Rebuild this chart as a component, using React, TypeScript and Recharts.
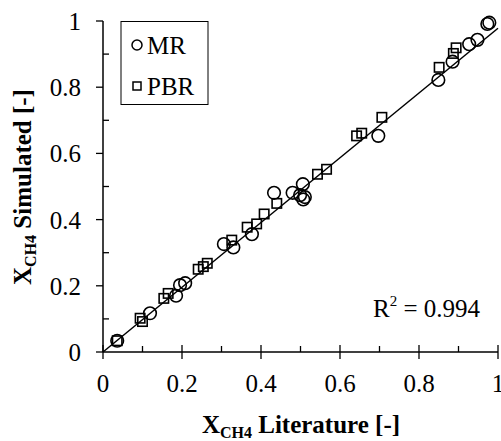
import { ScatterChart, Scatter, XAxis, YAxis, ReferenceLine } from 'recharts';

// MR (circles): literature vs simulated conversion
const mrLiterature = [0.036, 0.119, 0.185, 0.195, 0.208, 0.306, 0.33, 0.377, 0.433, 0.48, 0.506, 0.499, 0.507, 0.511, 0.697, 0.849, 0.885, 0.927, 0.948, 0.973, 0.978];
const mrSimulated = [0.034, 0.117, 0.17, 0.202, 0.208, 0.326, 0.316, 0.356, 0.481, 0.481, 0.507, 0.474, 0.461, 0.468, 0.653, 0.822, 0.877, 0.93, 0.943, 0.991, 0.995];

// PBR (squares)
const pbrLiterature = [0.036, 0.094, 0.1, 0.154, 0.165, 0.241, 0.254, 0.264, 0.326, 0.365, 0.389, 0.408, 0.44, 0.543, 0.566, 0.642, 0.655, 0.706, 0.851, 0.887, 0.894];
const pbrSimulated = [0.034, 0.102, 0.092, 0.162, 0.177, 0.25, 0.258, 0.268, 0.338, 0.377, 0.387, 0.417, 0.449, 0.537, 0.552, 0.653, 0.661, 0.709, 0.86, 0.902, 0.919];

const axisTicks = [0, 0.1, 0.2, 0.3, 0.4, 0.5, 0.6, 0.7, 0.8, 0.9, 1];
const majorTicks = [0, 0.2, 0.4, 0.6, 0.8, 1];
const seriesNames = ['MR', 'PBR'];
const fitSlope = 0.978;
const r2Value = '0.994';

const mrData = mrLiterature.map((x, i) => ({ x, y: mrSimulated[i] }));
const pbrData = pbrLiterature.map((x, i) => ({ x, y: pbrSimulated[i] }));

const FONT = "'Liberation Serif', 'Times New Roman', serif";
const serif = { fontFamily: FONT };

const CircleMark = (p: any) => (
  <circle cx={p.cx} cy={p.cy} r={6.3} fill="none" stroke="#000" strokeWidth={1.6} />
);
const SquareMark = (p: any) => (
  <rect x={p.cx - 4.7} y={p.cy - 4.7} width={9.4} height={9.4} fill="none" stroke="#000" strokeWidth={1.6} />
);

const YTick = ({ x, y, payload }: any) => {
  const major = majorTicks.includes(payload.value);
  return (
    <g>
      {major ? (
        <line x1={x - 7} x2={x} y1={y} y2={y} stroke="#000" strokeWidth={1.3} />
      ) : (
        <line x1={x} x2={x + 6} y1={y} y2={y} stroke="#000" strokeWidth={1.3} />
      )}
      {major && (
        <text x={x - 22} y={y + 9} textAnchor="end" style={serif} fontSize={25} fill="#000">
          {String(payload.value)}
        </text>
      )}
    </g>
  );
};

const XTick = ({ x, y, payload }: any) => {
  const major = majorTicks.includes(payload.value);
  return (
    <g>
      {major ? (
        <line x1={x} x2={x} y1={y - 7} y2={y + 7} stroke="#000" strokeWidth={1.3} />
      ) : (
        <line x1={x} x2={x} y1={y - 6} y2={y} stroke="#000" strokeWidth={1.3} />
      )}
      {major && (
        <text x={x} y={y + 40} textAnchor="middle" style={serif} fontSize={25} fill="#000">
          {String(payload.value)}
        </text>
      )}
    </g>
  );
};

export default function App() {
  return (
    <div style={{ position: 'absolute', left: 0, top: 0, width: 501, height: 441, background: '#fff' }}>
      <ScatterChart width={501} height={441} margin={{ top: 21, right: 3, left: 0, bottom: 0 }}>
        <XAxis
          type="number"
          dataKey="x"
          domain={[0, 1]}
          ticks={axisTicks}
          interval={0}
          tickSize={0}
          tickMargin={0}
          tick={<XTick />}
          tickLine={false}
          axisLine={{ stroke: '#000', strokeWidth: 1.5 }}
          height={89}
        />
        <YAxis
          type="number"
          dataKey="y"
          domain={[0, 1]}
          ticks={axisTicks}
          interval={0}
          tickSize={0}
          tickMargin={0}
          tick={<YTick />}
          tickLine={false}
          axisLine={{ stroke: '#000', strokeWidth: 1.5 }}
          width={103}
        />
        <ReferenceLine
          segment={[{ x: 0, y: 0 }, { x: 1, y: fitSlope }]}
          stroke="#000"
          strokeWidth={1.5}
          ifOverflow="visible"
        />
        <Scatter name={seriesNames[0]} data={mrData} shape={CircleMark} isAnimationActive={false} />
        <Scatter name={seriesNames[1]} data={pbrData} shape={SquareMark} isAnimationActive={false} />
      </ScatterChart>
      <svg width={501} height={441} style={{ position: 'absolute', left: 0, top: 0, pointerEvents: 'none' }}>
        {/* legend */}
        <rect x={121} y={21.5} width={87} height={83} fill="#fff" stroke="#000" strokeWidth={1} />
        <circle cx={137} cy={45} r={5} fill="none" stroke="#000" strokeWidth={1.5} />
        <text x={147} y={54} style={serif} fontSize={25} fill="#000">{seriesNames[0]}</text>
        <rect x={133} y={82} width={8} height={8} fill="none" stroke="#000" strokeWidth={1.5} />
        <text x={147} y={95} style={serif} fontSize={25} fill="#000">{seriesNames[1]}</text>

        <text x={373} y={317} style={serif} fontSize={25} fill="#000">
          R<tspan fontSize={15} dy={-11}>2</tspan>
          <tspan dy={11}> = {r2Value}</tspan>
        </text>
        <text x={301} y={433} textAnchor="middle" style={serif} fontSize={25} fontWeight="bold" fill="#000">
          X<tspan fontSize={16} dy={5}>CH4</tspan>
          <tspan dy={-5}> Literature [-]</tspan>
        </text>
        <text
          x={0}
          y={0}
          transform="translate(31 187) rotate(-90)"
          textAnchor="middle"
          style={serif}
          fontSize={25}
          fontWeight="bold"
          fill="#000"
        >
          X<tspan fontSize={16} dy={5}>CH4</tspan>
          <tspan dy={-5}> Simulated [-]</tspan>
        </text>
      </svg>
    </div>
  );
}
